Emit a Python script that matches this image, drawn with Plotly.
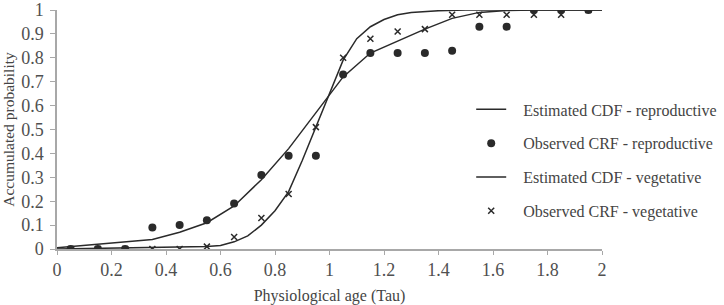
import plotly.graph_objects as go

# Observed points
obs_x = [0.05, 0.15, 0.25, 0.35, 0.45, 0.55, 0.65, 0.75, 0.85, 0.95,
         1.05, 1.15, 1.25, 1.35, 1.45, 1.55, 1.65, 1.75, 1.85, 1.95]
obs_repro = [0, 0, 0, 0.09, 0.10, 0.12, 0.19, 0.31, 0.39, 0.39,
             0.73, 0.82, 0.82, 0.82, 0.83, 0.93, 0.93, 1.0, 1.0, 1.0]
obs_veg = [0, 0, 0, 0, 0, 0.01, 0.05, 0.13, 0.23, 0.51,
           0.80, 0.88, 0.91, 0.92, 0.98, 0.98, 0.98, 0.98, 0.98, 1.0]

# Estimated CDF curves
est_repro_x = [0, 0.35, 0.45, 0.55, 0.65, 0.75, 0.85, 0.95, 1.0, 1.05, 1.15,
               1.25, 1.35, 1.45, 1.55, 1.65, 1.75, 2.0]
est_repro_y = [0.005, 0.04, 0.07, 0.11, 0.18, 0.29, 0.42, 0.57, 0.645, 0.72, 0.82,
               0.87, 0.92, 0.965, 0.99, 0.998, 1.0, 1.0]
est_veg_x = [0, 0.55, 0.6, 0.65, 0.7, 0.75, 0.8, 0.85, 0.9, 0.95, 1.0, 1.05,
             1.1, 1.15, 1.2, 1.25, 1.3, 1.4, 1.5, 2.0]
est_veg_y = [0, 0.01, 0.015, 0.03, 0.055, 0.10, 0.16, 0.24, 0.37, 0.51, 0.65, 0.79,
             0.88, 0.93, 0.96, 0.98, 0.99, 0.997, 1.0, 1.0]

series_names = ["Estimated CDF - reproductive", "Observed CRF - reproductive",
                "Estimated CDF - vegetative", "Observed CRF - vegetative"]

x_ticks = [0, 0.2, 0.4, 0.6, 0.8, 1, 1.2, 1.4, 1.6, 1.8, 2]
x_tick_labels = ["0", "0.2", "0.4", "0.6", "0.8", "1", "1.2", "1.4", "1.6", "1.8", "2"]
y_ticks = [0, 0.1, 0.2, 0.3, 0.4, 0.5, 0.6, 0.7, 0.8, 0.9, 1]
y_tick_labels = ["0", "0.1", "0.2", "0.3", "0.4", "0.5", "0.6", "0.7", "0.8", "0.9", "1"]

font_family = "Liberation Serif, Times New Roman, serif"
txt_col = "#444444"
tick_col = "#505050"
mark_col = "#2a2a2a"
pad = "\u00a0" * 3

fig = go.Figure()
fig.add_trace(go.Scatter(x=est_repro_x, y=est_repro_y, mode="lines",
                         line=dict(color=mark_col, width=1.5),
                         name=pad + series_names[0], legendgroup="a"))
fig.add_trace(go.Scatter(x=obs_x, y=obs_repro, mode="markers",
                         marker=dict(color=mark_col, size=8, symbol="circle"),
                         name=pad + series_names[1], legendgroup="b"))
fig.add_trace(go.Scatter(x=est_veg_x, y=est_veg_y, mode="lines",
                         line=dict(color=mark_col, width=1.5),
                         name=pad + series_names[2], legendgroup="c"))
fig.add_trace(go.Scatter(x=obs_x, y=obs_veg, mode="markers",
                         marker=dict(color=mark_col, size=6, symbol="x-thin",
                                     line=dict(color=mark_col, width=1.5)),
                         name=pad + series_names[3], legendgroup="d"))

axis_col = "#a8a8a8"
fig.update_layout(
    width=724, height=305,
    margin=dict(l=57, r=122, t=10, b=56, autoexpand=False),
    paper_bgcolor="white", plot_bgcolor="white",
    font=dict(family=font_family, size=15, color=txt_col),
    showlegend=True,
    legend=dict(x=0.76, y=0.655, xanchor="left", yanchor="top",
                bgcolor="rgba(0,0,0,0)", traceorder="grouped", itemwidth=30,
                tracegroupgap=10, font=dict(size=16, color=txt_col)),
    xaxis=dict(range=[0, 2], tickvals=x_ticks, ticktext=x_tick_labels,
               showgrid=False, zeroline=False, showline=True, linecolor=axis_col,
               linewidth=1.5, ticks="outside", ticklen=4, tickcolor=axis_col,
               ticklabelstandoff=0, automargin=False,
               title=dict(text="Physiological age (Tau)", standoff=24,
                          font=dict(size=16, color=txt_col)),
               tickfont=dict(size=18, color=tick_col)),
    yaxis=dict(range=[0, 1], tickvals=y_ticks, ticktext=y_tick_labels,
               showgrid=False, zeroline=False, showline=True, linecolor=axis_col,
               linewidth=1.5, ticks="outside", ticklen=5, tickcolor=axis_col,
               ticklabelstandoff=3, automargin=False,
               title=dict(text="Accumulated probability", standoff=4,
                          font=dict(size=15.5, color=txt_col)),
               tickfont=dict(size=18, color=tick_col)),
)

fig.write_html("out.html")
